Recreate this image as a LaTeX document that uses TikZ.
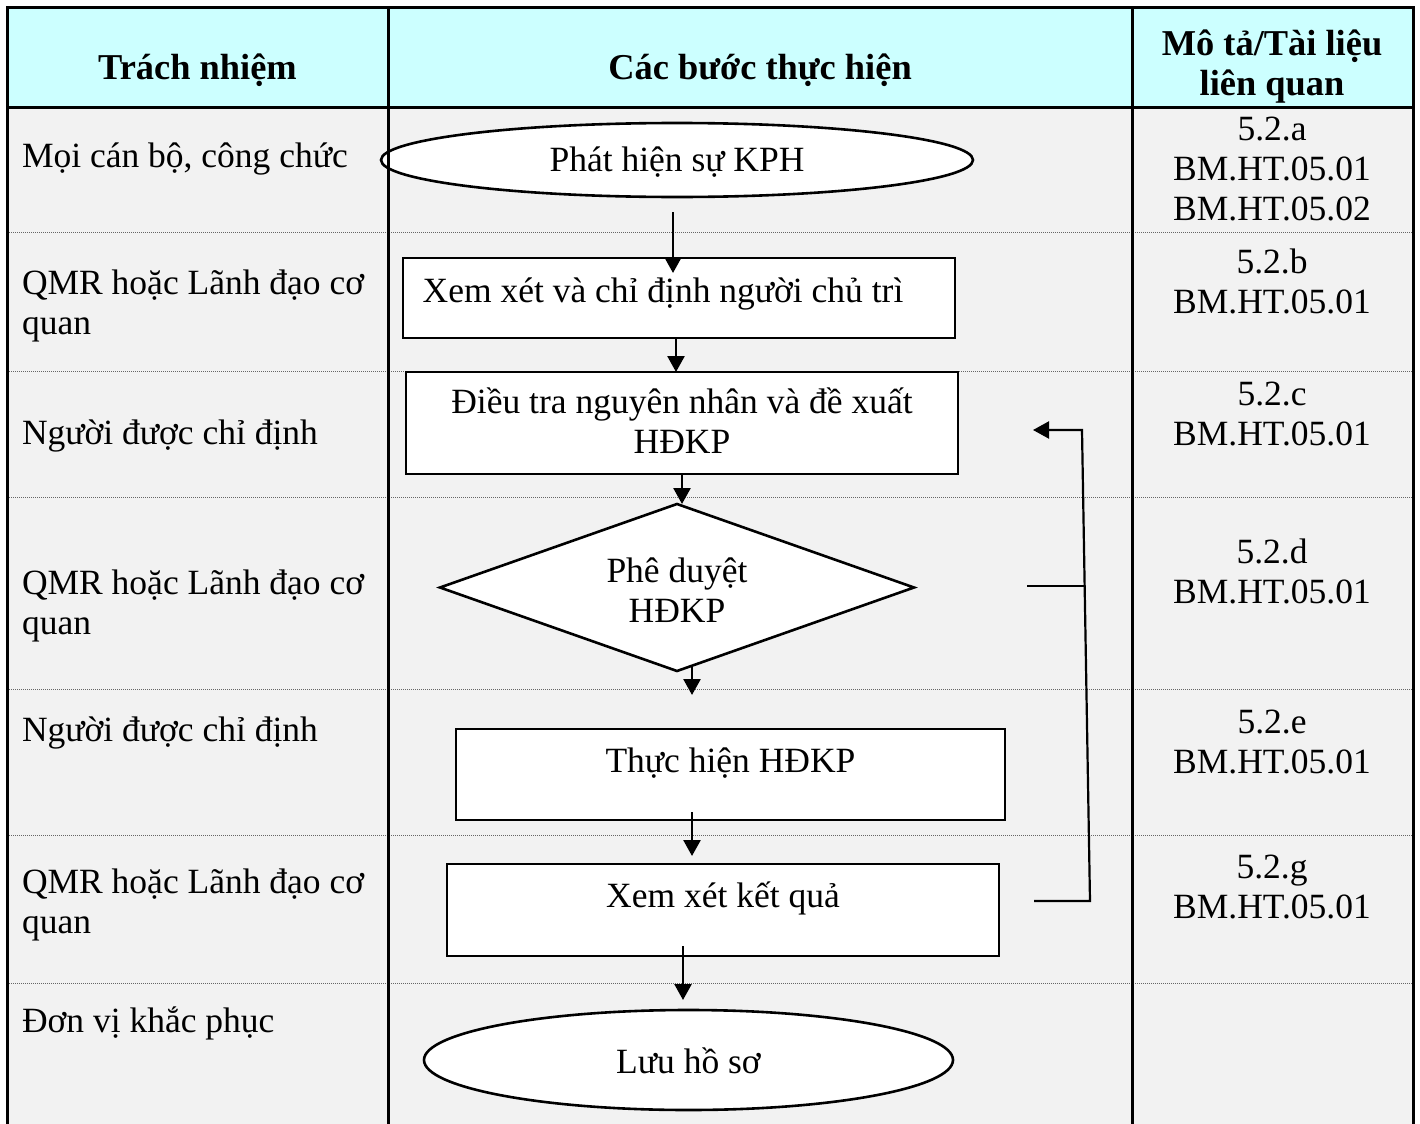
\documentclass[tikz,border=0pt]{standalone}
\usepackage{fontspec}
\setmainfont{Liberation Serif}
\usetikzlibrary{shapes.geometric,arrows.meta}
\definecolor{hdrfill}{HTML}{CCFFFF}
\definecolor{bodyfill}{HTML}{F2F2F2}
\newcommand\nodefont{\fontsize{17.75}{20}\selectfont\lineskiplimit=-50pt\relax}
\newcommand\hdrfont{\fontsize{18.2}{20}\selectfont\bfseries\lineskiplimit=-50pt\relax}
\newcommand\topst[1]{\rule{0pt}{#1pt}}
\newcommand\botst[1]{\rule[-#1pt]{0pt}{#1pt}}
\newcommand\fullst[2]{\rule[-#2pt]{0pt}{\dimexpr #1pt + #2pt\relax}}
\begin{document}
\begin{tikzpicture}[x=0.5pt,y=-0.5pt,
  every node/.style={inner sep=0pt, outer sep=0pt, font=\nodefont},
  shapebox/.style={draw, line width=1.3pt, fill=white, align=center},
  rectbox/.style={shapebox, rectangle},
  ellbox/.style={shapebox, ellipse},
  diabox/.style={shapebox, diamond, shape aspect=2.84},
  arr/.style={line width=1.3pt, -{Triangle[length=8pt,width=8.5pt]}},
  fbline/.style={line width=1.1pt},
  gridline/.style={line width=1.5pt, line join=miter},
  sepline/.style={line width=0.5pt, black!60, dash pattern=on 0.5pt off 0.5pt},
  lt/.style={anchor=base west},
  ltm/.style={anchor=north west, align=left},
  rt/.style={anchor=north, align=center},
  hd/.style={font=\hdrfont}]
\useasboundingbox (0,0) rectangle (1420,1124);
% table background
\fill[bodyfill] (7,107) rectangle (1413,1124);
\fill[hdrfill] (7,7) rectangle (1413,107);
\foreach \yy in {232,371,497,689,835,983} \draw[sepline] (7,\yy) -- (1413,\yy);

% header
\node[hd, anchor=base] (h1) at (197.5,79) {Trách nhiệm};
\node[hd, anchor=base] (h2) at (760,79) {Các bước thực hiện};
\node[hd, rt] (h3) at (1272,21) {\topst{17}Mô tả/Tài liệu\\liên quan};

% left column
\node[lt] (l1) at (22,167) {Mọi cán bộ, công chức};
\node[ltm] (l2) at (22,260) {\topst{17}QMR hoặc Lãnh đạo cơ\\quan};
\node[lt] (l3) at (22,444) {Người được chỉ định};
\node[ltm] (l4) at (22,560) {\topst{17}QMR hoặc Lãnh đạo cơ\\quan};
\node[lt] (l5) at (22,741) {Người được chỉ định};
\node[ltm] (l6) at (22,859) {\topst{17}QMR hoặc Lãnh đạo cơ\\quan};
\node[lt] (l7) at (22,1032) {Đơn vị khắc phục};

% right column
\node[rt] (r1) at (1272,106) {\topst{17}5.2.a\\BM.HT.05.01\\BM.HT.05.02};
\node[rt] (r2) at (1272,239) {\topst{17}5.2.b\\BM.HT.05.01};
\node[rt] (r3) at (1272,371) {\topst{17}5.2.c\\BM.HT.05.01};
\node[rt] (r4) at (1272,529) {\topst{17}5.2.d\\BM.HT.05.01};
\node[rt] (r5) at (1272,699) {\topst{17}5.2.e\\BM.HT.05.01};
\node[rt] (r6) at (1272,844) {\topst{17}5.2.g\\BM.HT.05.01};

% flow shapes
\node[ellbox, minimum width=296pt, minimum height=37pt] (e1) at (677,160)
  {\fullst{17}{6}Phát hiện sự KPH};
\node[rectbox, minimum width=276pt, minimum height=40pt] (b2) at (679,298)
  {\fullst{17}{13}Xem xét và chỉ định người chủ trì\rule{16pt}{0pt}};
\node[rectbox, minimum width=276pt, minimum height=51pt] (b3) at (682,423)
  {\topst{17}Điều tra nguyên nhân và đề xuất\\HĐKP\botst{7}};
\node[diabox, minimum width=237pt, minimum height=83.5pt] (d) at (677,587.5)
  {\topst{19.5}Phê duyệt\\HĐKP\botst{5}};
\node[rectbox, minimum width=274.5pt, minimum height=45.5pt] (b5) at (730.5,774.5)
  {\fullst{17}{19.5}Thực hiện HĐKP};
\node[rectbox, minimum width=276pt, minimum height=46pt] (b6) at (723,910)
  {\fullst{17}{20}Xem xét kết quả};
\node[ellbox, minimum width=264.5pt, minimum height=50pt] (e2) at (688.5,1060)
  {\fullst{18}{5}Lưu hồ sơ};

% vertical connectors
\draw[arr] ([shift={(-4,15)}]e1.south) -- ([shift={(-4,15)}]e1.south |- b2.north);
\draw[arr] ([shift={(-3,0)}]b2.south) -- ([shift={(-3,0)}]b2.south |- b3.north);
\draw[arr] (b3.south) -- (b3.south |- d.north);
\coordinate (a4s) at ([shift={(15,-6)}]d.south);
\coordinate (a4e) at ([shift={(15,24)}]d.south);
\draw[arr] (a4s) -- (a4e);
\draw[arr] ([shift={(-38.5,-8)}]b5.south) -- ([shift={(-38.5,-8)}]b5.south |- b6.north);
\draw[arr] ([shift={(-40,-10)}]b6.south) -- ([shift={(-40,-10)}]b6.south |- e2.north);

% feedback loop
\coordinate (fb1) at (1034,901);
\coordinate (fb2) at (1090,901);
\coordinate (fb3) at (1082,430);
\coordinate (fb4) at (1033,430);
\draw[fbline, line join=miter, -{Triangle[length=8pt,width=8.5pt]}] (fb1) -- (fb2) -- (fb3) -- (fb4);
\coordinate (fm1) at (1027,586);
\coordinate (fm2) at (1085,586);
\draw[fbline] (fm1) -- (fm2);

% table frame
\draw[gridline] (7,1124) -- (7,7) -- (1413,7) -- (1413,1124);
\draw[gridline] (7,107) -- (1413,107);
\draw[gridline] (388,7) -- (388,1124);
\draw[gridline] (1132,7) -- (1132,1124);
\end{tikzpicture}
\end{document}
